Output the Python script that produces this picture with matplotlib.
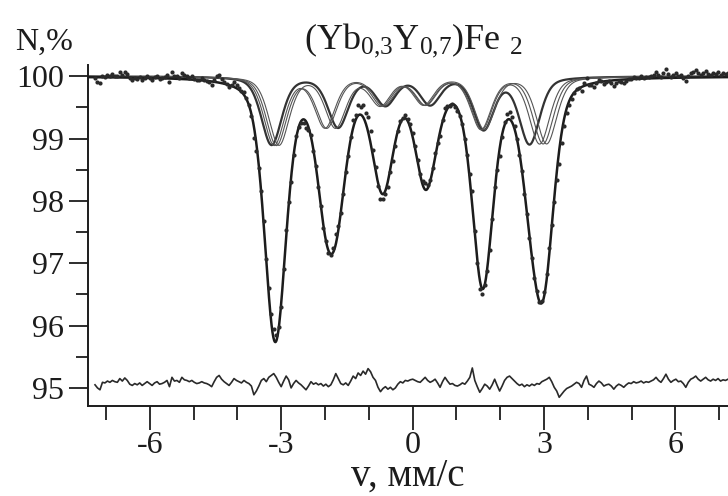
import numpy as np
import matplotlib.pyplot as plt
from matplotlib.ticker import MultipleLocator

plt.rcParams['font.family'] = ['Liberation Serif', 'DejaVu Serif']
plt.rcParams['mathtext.fontset'] = 'custom'
plt.rcParams['mathtext.rm'] = 'Liberation Serif'
plt.rcParams['mathtext.it'] = 'Liberation Serif:italic'

# channel velocities, mm/s (256 channels)
velocity = np.linspace(-7.25, 7.2, 256)

# residual (data - fit) at the bottom
resid = [
    -0.02, -0.07, -0.10, 0.02, 0.01, 0.04, 0.02, 0.05, 0.03, 0.02, 0.08, 0.04, 0.09, 0.05, -0.01, -0.03,
    0.00, -0.02, 0.01, -0.03, 0.00, 0.03, 0.00, -0.03, 0.01, 0.03, -0.01, 0.00, 0.02, 0.05, -0.05, 0.10,
    0.04, 0.05, 0.02, 0.10, 0.06, 0.05, 0.03, 0.05, 0.02, 0.00, 0.01, 0.03, 0.01, 0.00, -0.02, -0.05,
    0.03, 0.10, 0.13, 0.07, 0.03, 0.00, -0.03, 0.02, 0.08, 0.05, 0.03, 0.01, 0.05, 0.02, 0.00, -0.04,
    -0.18, -0.12, -0.04, 0.05, 0.08, 0.03, 0.10, 0.13, 0.16, 0.10, 0.02, -0.05, 0.04, 0.12, 0.06, -0.07,
    0.00, 0.05, 0.01, -0.02, -0.06, -0.10, -0.04, 0.03, -0.01, 0.01, -0.02, 0.00, -0.04, -0.01, -0.05, -0.02,
    0.06, 0.16, 0.08, 0.00, -0.02, 0.01, -0.03, 0.04, 0.12, 0.08, 0.17, 0.13, 0.20, 0.15, 0.24, 0.19,
    0.10, 0.05, -0.06, -0.13, -0.08, -0.05, -0.09, -0.06, -0.10, -0.07, -0.01, 0.03, 0.01, 0.05, 0.04, 0.06,
    0.07, 0.05, 0.03, 0.02, 0.06, 0.10, 0.05, 0.02, 0.04, 0.07, 0.01, -0.06, 0.03, 0.10, 0.04, -0.01,
    0.00, -0.03, -0.04, -0.02, 0.01, -0.01, 0.04, 0.10, 0.25, 0.05, -0.05, -0.14, -0.08, -0.01, -0.04, -0.09,
    -0.02, 0.07, -0.03, -0.12, -0.04, 0.05, 0.10, 0.12, 0.08, 0.04, 0.00, -0.03, -0.01, -0.05, -0.02, -0.04,
    -0.01, -0.03, 0.00, -0.01, 0.03, 0.05, 0.07, 0.10, 0.03, -0.06, -0.12, -0.22, -0.17, -0.12, -0.08, -0.06,
    -0.04, -0.01, 0.02, 0.00, -0.06, 0.05, 0.12, -0.01, -0.03, -0.06, 0.00, 0.04, 0.01, -0.04, -0.02, -0.01,
    -0.04, -0.09, -0.04, -0.01, -0.03, -0.06, -0.02, 0.01, 0.00, 0.03, 0.01, 0.02, 0.04, 0.01, 0.03, 0.02,
    0.04, 0.06, 0.10, 0.05, 0.02, 0.08, 0.15, 0.07, 0.02, 0.05, 0.07, 0.03, 0.04, 0.00, -0.06, 0.02,
    0.07, 0.09, 0.12, 0.07, 0.04, 0.07, 0.10, 0.06, 0.04, 0.07, 0.05, 0.08, 0.04, 0.06, 0.05, 0.07,
]
resid_base = 95.07

# four sextets: line positions (mm/s), line depths (%), line width (mm/s)
sextet_1 = [-3.22, -1.70, -0.62, 0.40, 1.62, 2.67]
sextet_2 = [-3.16, -2.00, -0.66, 0.30, 1.58, 2.90]
sextet_3 = [-3.11, -1.96, -0.70, 0.28, 1.56, 2.98]
sextet_4 = [-3.05, -1.76, -0.74, 0.25, 1.64, 3.06]
line_depth = [1.09, 0.80, 0.44, 0.43, 0.83, 1.07]
line_width = 0.55
lorentz_part = 0.4


def absorption(v, pos):
    # pseudo-Voigt lines
    a = np.zeros_like(v)
    for p, d in zip(pos, line_depth):
        x = (v - p) / (line_width / 2)
        a += d * (lorentz_part / (1 + x ** 2)
                  + (1 - lorentz_part) * np.exp(-np.log(2) * x ** 2))
    return a


sextets = [sextet_1, sextet_2, sextet_3, sextet_4]
vv = np.linspace(-7.41, 7.2, 1500)
fit = 100 - sum(absorption(vv, s) for s in sextets)
fit_ch = 100 - sum(absorption(velocity, s) for s in sextets)
counts = fit_ch + np.array(resid)

ink = '#1c1c1c'
fig = plt.figure(figsize=(7.28, 4.96), dpi=100)
ax = fig.add_axes([88 / 728, 90 / 496, 1 - 88 / 728, 341 / 496])

for i, s in enumerate(sextets):
    ax.plot(vv, 100 - absorption(vv, s), color='#333333' if i == 0 else '#555555',
            lw=1.6 if i == 0 else 0.8)
ax.plot(vv, fit, color=ink, lw=1.8)
ax.plot(velocity, counts, 'o', color='#2a2a2a', ms=3.0, mew=0)
ax.plot(velocity, resid_base + np.array(resid), color='#2a2a2a', lw=1.2)

ax.set_xlim(-7.41, 7.2)
ax.set_ylim(94.71, 100.18)
ax.set_xticks([-6, -3, 0, 3, 6])
ax.set_xticklabels(['-6', '-3', '0', '3', '6'])
ax.xaxis.set_minor_locator(MultipleLocator(1))
ax.set_yticks([95, 96, 97, 98, 99, 100])
ax.yaxis.set_minor_locator(MultipleLocator(0.5))

ax.spines['top'].set_visible(False)
ax.spines['right'].set_visible(False)
for sp in ['left', 'bottom']:
    ax.spines[sp].set_linewidth(1.4)
    ax.spines[sp].set_color(ink)

ax.tick_params(axis='x', which='major', direction='out', length=17, width=1.3,
               labelsize=23, pad=1, colors=ink)
ax.tick_params(axis='x', which='minor', direction='out', length=10, width=1.3, colors=ink)
ax.tick_params(axis='y', which='major', direction='out', length=13.5, width=1.3,
               labelsize=23, pad=4, colors=ink)
ax.tick_params(axis='y', which='minor', direction='out', length=9, width=1.3, colors=ink)

ax.set_xlabel('v, мм/с', fontsize=28, labelpad=-2, color=ink)

fig.text(15 / 728, 1 - 42 / 496, 'N,%', fontsize=23, va='center', ha='left', color=ink)
fig.text(413 / 728, 1 - 40 / 496, r'(Yb$_{\mathrm{0{,}3}}$Y$_{\mathrm{0{,}7}}$)Fe ${}_{\mathrm{2}}$',
         fontsize=26, va='center', ha='center', color=ink)

fig.savefig('out.png', dpi=100)
